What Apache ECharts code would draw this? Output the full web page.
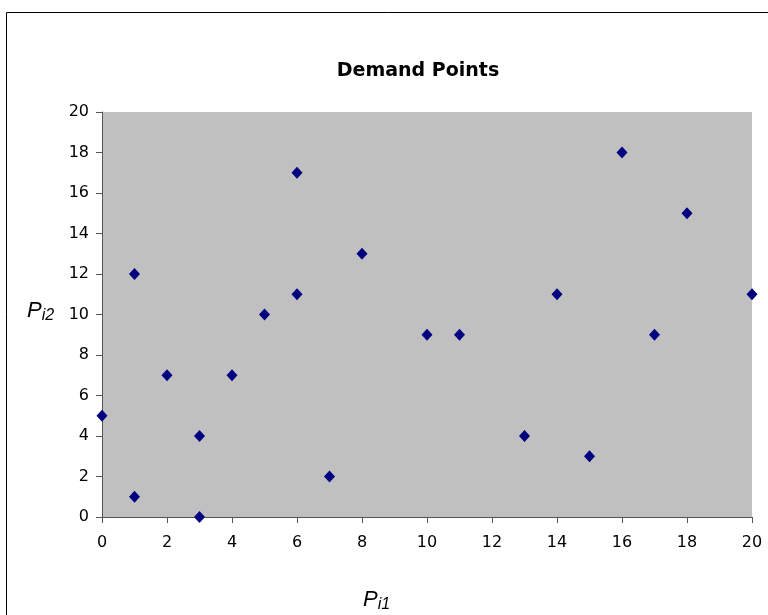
<!DOCTYPE html>
<html><head><meta charset="utf-8">
<script src="https://cdn.jsdelivr.net/npm/echarts@6/dist/echarts.min.js"></script>
<style>html,body{margin:0;padding:0;background:#fff}#c{width:768px;height:615px}</style>
</head><body><div id="c"></div>
<script>
const xValues = [0, 1, 1, 2, 3, 3, 4, 5, 6, 6, 7, 8, 10, 11, 13, 14, 15, 16, 17, 18, 20];
const yValues = [5, 12, 1, 7, 4, 0, 7, 10, 17, 11, 2, 13, 9, 9, 4, 11, 3, 18, 9, 15, 11];
const xTicks = [0, 2, 4, 6, 8, 10, 12, 14, 16, 18, 20];
const yTicks = [0, 2, 4, 6, 8, 10, 12, 14, 16, 18, 20];
const points = xValues.map((x, i) => [x, yValues[i]]);
const chart = echarts.init(document.getElementById('c'), null, {renderer: 'canvas'});
const FONT = 'DejaVu Sans, Liberation Sans, Arial';
const axisCommon = {
  type: 'value', min: 0, max: 20, interval: 2,
  axisLine: {show: true, onZero: false, lineStyle: {color: '#555', width: 1}},
  axisTick: {show: true, inside: false, length: 6, lineStyle: {color: '#555'}},
  splitLine: {show: false},
  axisLabel: {color: '#000', fontFamily: FONT, fontSize: 16}
};
chart.setOption({
  animation: false,
  grid: {left: 102, right: 16, top: 112, bottom: 98, show: true, backgroundColor: '#c0c0c0', borderWidth: 0},
  xAxis: Object.assign({}, axisCommon, {axisLabel: Object.assign({}, axisCommon.axisLabel, {margin: 18})}),
  yAxis: Object.assign({}, axisCommon, {axisLabel: Object.assign({}, axisCommon.axisLabel, {margin: 13})}),
  series: [{
    type: 'scatter', data: points, symbol: 'diamond', symbolSize: [11, 12],
    itemStyle: {color: '#000080', opacity: 1}, clip: false
  }],
  graphic: [
    {type: 'rect', shape: {x: 6.5, y: 12.5, width: 800, height: 700}, style: {fill: null, stroke: '#000', lineWidth: 1}, silent: true, z: -10},
    {type: 'text', x: 418, y: 62, style: {text: 'Demand Points', align: 'center', verticalAlign: 'top', fontFamily: FONT, fontWeight: 'bold', fontSize: 19, fill: '#000'}},
    {type: 'text', left: 363, top: 589, style: {rich: {a: {fontFamily: 'Liberation Sans, Arial', fontStyle: 'italic', fontSize: 22, color: '#000'}, b: {fontFamily: 'Liberation Sans, Arial', fontStyle: 'italic', fontSize: 16, color: '#000', padding: [10, 0, 0, 0]}}, text: '{a|P}{b|i1}'}},
    {type: 'text', left: 27, top: 300, style: {rich: {a: {fontFamily: 'Liberation Sans, Arial', fontStyle: 'italic', fontSize: 22, color: '#000'}, b: {fontFamily: 'Liberation Sans, Arial', fontStyle: 'italic', fontSize: 16, color: '#000', padding: [10, 0, 0, 0]}}, text: '{a|P}{b|i2}'}}
  ]
});
</script></body></html>
